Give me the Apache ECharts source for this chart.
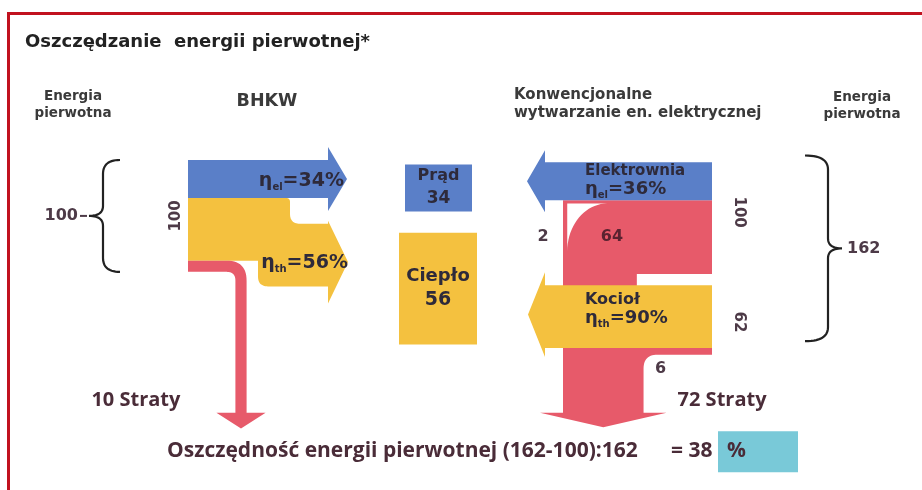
<!DOCTYPE html>
<html><head><meta charset="utf-8">
<script src="https://cdn.jsdelivr.net/npm/echarts@6/dist/echarts.min.js"></script>
<style>html,body{margin:0;padding:0;background:#fff}#c{width:922px;height:490px}</style>
</head><body><div id="c"></div>
<script>
// ---------------- data ----------------
const bhkwOutputs   = [34, 56, 10];   // prąd, ciepło, straty (BHKW, wejście 100)
const bhkwEff       = [34, 56];       // ηel, ηth [%]
const plantOutputs  = [34, 64, 2];    // prąd, straty, straty sieci (elektrownia, wejście 100)
const plantEff      = [36];           // ηel [%]
const boilerOutputs = [56, 6];        // ciepło, straty (kocioł, wejście 62)
const boilerEff     = [90];           // ηth [%]
const productNames  = ['Prąd', 'Ciepło'];
const productValues = [34, 56];
const inputValues   = [100, 100, 62]; // BHKW, elektrownia, kocioł
const lossTotals    = [10, 72];
const primaryTotals = [100, 162];
const savingPct     = [38];

// ---------------- layout (axis units: x ~ px, y = energy units) ----------------
const LAY = {
  bhkwX: 188, bhkwY: 0,
  lBlueHead: 328, lBlueTip: 347,
  lYelNotch: 290, lYelBodyX: 258, lYelDrop: 23, lYelHead: 328, lYelTip: 348,
  lRedLeg: 241, lRedHeadU: 226, lRedTipU: 240,
  rX: 712, plantY: 2, boilerY: 112, rHead: 545, rBlueTip: 527, rYelTip: 528,
  trunkX: 563, bigHeadU: 226, bigTipU: 239,
  prad: [405, 472, 4, 46], cieplo: [399, 477, 65, 165],
  lBrace: [120, 103, 89], rBrace: [805, 828, 842]
};
const COL = { blue: '#5a7fc8', yellow: '#f4c13f', red: '#e75a6a', cyan: '#79c9d8',
  text: '#2e2a3a', num: '#4d3a47', bottom: '#4a2c38', dark: '#222' };
const FONT = 'DejaVu Sans';

function quadPts(p0, c, p1, n) { n = n || 14; const o = [];
  for (let i = 1; i <= n; i++) { const t = i / n, a = (1 - t) * (1 - t), b = 2 * (1 - t) * t, d = t * t;
    o.push([a * p0[0] + b * c[0] + d * p1[0], a * p0[1] + b * c[1] + d * p1[1]]); } return o; }
function cubicPts(p0, c1, c2, p1, n) { n = n || 20; const o = [];
  for (let i = 1; i <= n; i++) { const t = i / n, m = 1 - t;
    const a = m * m * m, b = 3 * m * m * t, c = 3 * m * t * t, d = t * t * t;
    o.push([a * p0[0] + b * c1[0] + c * c2[0] + d * p1[0], a * p0[1] + b * c1[1] + c * c2[1] + d * p1[1]]); } return o; }
function Path() { const pts = []; const api = {
  L(p) { pts.push(p); return api; },
  Q(c, p) { pts.push(...quadPts(pts[pts.length - 1], c, p)); return api; },
  C(c1, c2, p) { pts.push(...cubicPts(pts[pts.length - 1], c1, c2, p)); return api; },
  pts }; return api; }
function poly(points, fill) { return { type: 'polygon', shape: { points }, style: { fill } }; }
function line(points, stroke, w) { return { type: 'polyline', shape: { points }, style: { stroke, lineWidth: w, fill: null } }; }
function txt(x, y, text, o) { o = o || {};
  return { type: 'text', x, y, rotation: o.rot || 0,
    style: { text, fill: o.color || COL.text, fontFamily: o.family || FONT, fontSize: o.size || 13,
      fontWeight: o.weight || 'bold', align: o.align || 'center', verticalAlign: 'middle',
      lineHeight: o.lh, rich: o.rich } }; }
function etaTxt(x, y, sub, val, align, size) {
  const base = { fontFamily: FONT, fontSize: size, fontWeight: 'bold', lineHeight: size + 4 };
  return txt(x, y, '{a|η}{b|' + sub + '}{a|=' + val + '%}', { align, size,
    rich: { a: base, b: { fontFamily: FONT, fontSize: Math.round(size * 0.55), fontWeight: 'bold', lineHeight: 10, verticalAlign: 'bottom' } } });
}

function renderAll(params, api) {
  const X = x => api.coord([x, 0])[0];
  const Y = u => api.coord([0, u])[1];
  const T = v => Math.abs(api.size([0, v])[1]);
  const k = [];
  const sansB = { family: 'Open Sans', weight: 'bold', size: 20, color: COL.bottom };

  // ---- BHKW ----
  const [be, bh, bs] = bhkwOutputs;
  const u0 = LAY.bhkwY, uE = u0 + be, uH = uE + bh, uS = uH + bs;
  const x0 = X(LAY.bhkwX);
  // blue
  { const y0 = Y(u0), y1 = Y(uE), hb = X(LAY.lBlueHead), oh = 13;
    k.push(poly([[x0, y0], [hb, y0], [hb, y0 - oh], [X(LAY.lBlueTip), (y0 + y1) / 2], [hb, y1 + oh], [hb, y1], [x0, y1]], COL.blue)); }
  // yellow
  let yTipL;
  { const yT = Y(uE), yB = Y(uH), bT = Y(uE + LAY.lYelDrop), bB = Y(uE + LAY.lYelDrop + bh);
    const nx = X(LAY.lYelNotch), hb = X(LAY.lYelHead), bx = X(LAY.lYelBodyX);
    const hT = bT - 3, hB = bB + 17; yTipL = (hT + hB) / 2;
    const p = Path().L([x0, yT]).L([nx - 4, yT]).Q([nx, yT], [nx, yT + 4]).L([nx, bT - 10]).Q([nx, bT], [nx + 10, bT]).L([hb, bT]).L([hb, hT])
      .L([X(LAY.lYelTip), yTipL]).L([hb, hB]).L([hb, bB]).L([bx + 10, bB]).Q([bx, bB], [bx, bB - 10]).L([bx, yB]).L([x0, yB]);
    k.push(poly(p.pts, COL.yellow)); }
  // red (losses)
  { const yT = Y(uH), yB = Y(uS), w = yB - yT, cx = X(LAY.lRedLeg), lL = cx - w / 2, lR = cx + w / 2;
    const R = 20, r = Math.max(R - w, 3), hy = Y(LAY.lRedHeadU), ty = Y(LAY.lRedTipU), oh = 19;
    const p = Path().L([x0, yT]).L([lR - R, yT]).Q([lR, yT], [lR, yT + R]).L([lR, hy]).L([lR + oh, hy]).L([cx, ty])
      .L([lL - oh, hy]).L([lL, hy]).L([lL, yB + r]).Q([lL, yB], [lL - r, yB]).L([x0, yB]);
    k.push(poly(p.pts, COL.red));
    k.push(txt(lL - 55, Y(LAY.lRedHeadU) - 13, lossTotals[0] + ' Straty', Object.assign({}, sansB, { align: 'right' }))); }
  k.push(etaTxt(X(344), Y((u0 + uE) / 2) + 2, 'el', bhkwEff[0], 'right', 19));
  k.push(etaTxt(X(348), yTipL + 1, 'th', bhkwEff[1], 'right', 19));
  k.push(txt(X(176), Y((u0 + uS) / 2), String(inputValues[0]), { rot: Math.PI / 2, size: 15, color: COL.num }));

  // ---- products ----
  [LAY.prad, LAY.cieplo].forEach((b, i) => {
    const xa = X(b[0]), xb = X(b[1]), ya = Y(b[2]), yb = Y(b[3]);
    k.push({ type: 'rect', shape: { x: xa, y: ya, width: xb - xa, height: yb - ya }, style: { fill: i ? COL.yellow : COL.blue } });
    const cx = (xa + xb) / 2, cy = (ya + yb) / 2;
    k.push(txt(cx, cy - 12, productNames[i], { size: i ? 18 : 16, color: COL.text }));
    k.push(txt(cx, cy + 11, String(productValues[i]), { size: i ? 19 : 17, color: COL.text }));
  });

  // ---- conventional ----
  const [pe, pl, pg] = plantOutputs;
  const uP0 = LAY.plantY, uPE = uP0 + pe, uPL = uPE + pl + pg;
  const [kh, kl] = boilerOutputs;
  const uK0 = LAY.boilerY, uKH = uK0 + kh, uKL = uKH + kl;
  const xr = X(LAY.rX), hr = X(LAY.rHead);
  const xT0 = X(LAY.trunkX), xT1 = xT0 + T(pl + pg), xT2 = xT1 + T(kl);
  // red trunk
  { const hy = Y(LAY.bigHeadU), ty = Y(LAY.bigTipU), oh = 23, r6 = 14;
    const p = Path().L([xr, Y(uPE)]).L([xT0, Y(uPE)]).L([xT0, hy]).L([xT0 - oh, hy]).L([(xT0 + xT2) / 2, ty])
      .L([xT2 + oh, hy]).L([xT2, hy]).L([xT2, Y(uKL) + r6]).Q([xT2, Y(uKL)], [xT2 + r6, Y(uKL)]).L([xr, Y(uKL)])
      .L([xr, Y(uKH)]).L([xT1, Y(uKH)]).L([xT1, Y(uPL)]).L([xr, Y(uPL)]);
    k.push(poly(p.pts, COL.red));
    // gap between the two flows (2 = losses)
    const s = T(pg), xl = xT0 + s + 2, yt = Y(uPE) + s + 1, bw = 40, bh2 = 48, kk = 0.5523;
    const q = Path().L([xl, yt]).L([xl + bw, yt]).C([xl + bw - kk * bw, yt], [xl, yt + bh2 - kk * bh2], [xl, yt + bh2]);
    k.push(poly(q.pts, '#ffffff'));
    k.push(txt(xT0 - 20, Y((uPE + uPL) / 2), String(pg), { size: 16, color: COL.num }));
    k.push(txt((xT0 + xT1) / 2 + 12, Y((uPE + uPL) / 2), String(pl), { size: 16, color: '#5a2230', weight: 'bold' }));
    k.push(txt(xT2 + 17, Y(uKL) + 14, String(kl), { size: 16, color: COL.num }));
    k.push(txt(xT2 + 34, Y(LAY.bigHeadU) - 13, lossTotals[1] + ' Straty', Object.assign({}, sansB, { align: 'left' }))); }
  // blue (Elektrownia)
  { const y0 = Y(uP0), y1 = Y(uPE), oh = 12;
    k.push(poly([[xr, y0], [hr, y0], [hr, y0 - oh], [X(LAY.rBlueTip), (y0 + y1) / 2], [hr, y1 + oh], [hr, y1], [xr, y1]], COL.blue));
    k.push(txt(X(585), y0 + 9, 'Elektrownia', { size: 15, align: 'left' }));
    k.push(etaTxt(X(585), y0 + 27, 'el', plantEff[0], 'left', 18)); }
  // yellow (Kocioł)
  { const y0 = Y(uK0), y1 = Y(uKH);
    k.push(poly([[xr, y0], [hr, y0], [hr, y0 - 13], [X(LAY.rYelTip), (y0 + y1 + 9 - 13) / 2], [hr, y1 + 9], [hr, y1], [xr, y1]], COL.yellow));
    k.push(txt(X(585), y0 + 15, 'Kocioł', { size: 16, align: 'left' }));
    k.push(etaTxt(X(585), y0 + 33, 'th', boilerEff[0], 'left', 18)); }
  k.push(txt(X(739), Y((uP0 + uPL) / 2) - 6, String(inputValues[1]), { rot: -Math.PI / 2, size: 15, color: COL.num }));
  k.push(txt(X(739), Y((uK0 + uKL) / 2) + 2, String(inputValues[2]), { rot: -Math.PI / 2, size: 15, color: COL.num }));

  // ---- braces ----
  { const [xe, xv, xt] = LAY.lBrace, yT = Y(u0), yB = Y(uS), yM = (yT + yB) / 2;
    const p = Path().L([xe, yT]).Q([xv, yT], [xv, yT + 14]).L([xv, yM - 10]).Q([xv, yM], [xt, yM])
      .Q([xv, yM], [xv, yM + 10]).L([xv, yB - 14]).Q([xv, yB], [xe, yB]);
    k.push(line(p.pts, COL.dark, 2.2));
    k.push(line([[xt - 2, yM], [xt - 9, yM]], COL.num, 2));
    k.push(txt(xt - 11, yM, String(primaryTotals[0]), { size: 16, color: COL.num, align: 'right' })); }
  { const [xe, xv, xt] = LAY.rBrace, yT = Y(uP0 - 6), yB = Y(uKL - 12), yM = (yT + yB) / 2;
    const p = Path().L([xe, yT]).Q([xv, yT], [xv, yT + 14]).L([xv, yM - 10]).Q([xv, yM], [xt, yM])
      .Q([xv, yM], [xv, yM + 10]).L([xv, yB - 14]).Q([xv, yB], [xe, yB]);
    k.push(line(p.pts, COL.dark, 2.2));
    k.push(txt(xt + 5, yM, String(primaryTotals[1]), { size: 16, color: COL.num, align: 'left' })); }

  // ---- bottom result ----
  { const yb = Y(LAY.bigTipU) + 24, big = Object.assign({}, sansB, { size: 21, align: 'left' });
    k.push({ type: 'rect', shape: { x: X(718), y: yb - 20, width: X(798) - X(718), height: 41 }, style: { fill: COL.cyan } });
    k.push(txt(X(167), yb, 'Oszczędność energii pierwotnej (' + primaryTotals[1] + '-' + primaryTotals[0] + '):' + primaryTotals[1], big));
    k.push(txt(X(671), yb, '= ' + savingPct[0], big));
    k.push(txt(X(727), yb, '%', big)); }

  // ---- headers ----
  k.push(txt(X(25), 42, 'Oszczędzanie  energii pierwotnej*', { size: 18, color: COL.dark, align: 'left' }));
  k.push(txt(X(73), 105, 'Energia\npierwotna', { size: 13.5, lh: 17, color: '#3a3a3a' }));
  k.push(txt(X(267), 101, 'BHKW', { size: 17.5, color: '#3a3a3a' }));
  k.push(txt(X(514), 104, 'Konwencjonalne\nwytwarzanie en. elektrycznej', { size: 15, lh: 18, color: '#3a3a3a', align: 'left' }));
  k.push(txt(X(862), 106, 'Energia\npierwotna', { size: 13.5, lh: 17, color: '#3a3a3a' }));

  // frame
  k.unshift({ type: 'rect', shape: { x: 8.5, y: 13.5, width: 1000, height: 1000 }, style: { fill: null, stroke: '#c1121f', lineWidth: 3 } });
  return { type: 'group', children: k };
}

const chart = echarts.init(document.getElementById('c'), null, { renderer: 'canvas' });
chart.setOption({
  animation: false,
  backgroundColor: '#ffffff',
  grid: { left: 0, right: 0, top: 0, bottom: 0 },
  xAxis: { type: 'value', min: 0, max: 922, show: false },
  yAxis: { type: 'value', min: -143, max: 295, inverse: true, show: false },
  series: [{ type: 'custom', coordinateSystem: 'cartesian2d', clip: false, silent: true,
    renderItem: renderAll, data: [[0, 0]] }]
});
</script></body></html>
